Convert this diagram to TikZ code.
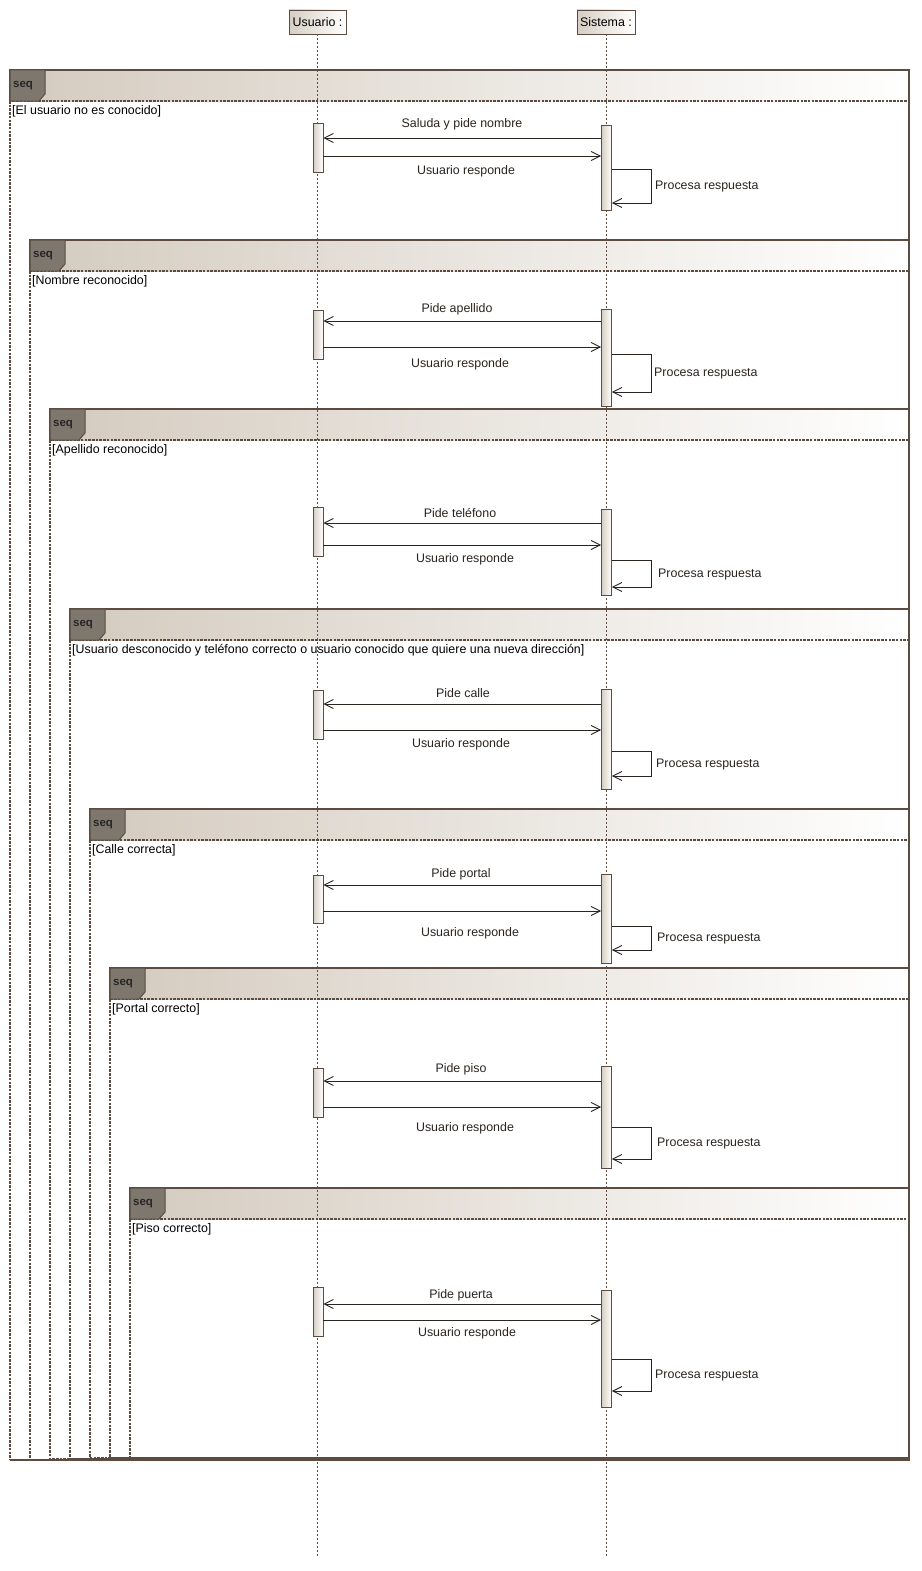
\documentclass[tikz,border=0pt]{standalone}
\usepackage{fontspec}
\setmainfont{Liberation Sans}
\usetikzlibrary{arrows.meta,calc}
\definecolor{lc}{HTML}{5B4B40}
\definecolor{hdr}{HTML}{D4CBBF}
\definecolor{tabc}{HTML}{7E776D}
\definecolor{actc}{HTML}{D6CEC3}
\definecolor{txt}{HTML}{2A2420}
\begin{document}
\begin{tikzpicture}[x=1pt,y=-1pt,
  font=\fontsize{12.4}{14.5}\selectfont,
  every node/.style={text=txt},
  head/.style={draw=lc,line width=0.9pt,left color=actc,right color=white,minimum height=24pt,inner sep=2pt,text=black},
  act/.style={draw=lc,line width=0.9pt,left color=actc,right color=white,minimum width=10pt,inner sep=0pt},
  lifeline/.style={draw=lc,line width=0.8pt,dash pattern=on 2pt off 2pt},
  frameline/.style={draw=lc,line width=1.2pt},
  operand/.style={draw=lc,line width=1.1pt,dash pattern=on 2.5pt off 1.2pt},
  msg/.style={draw=txt,line width=0.9pt,-{Straight Barb[length=9pt,width=9pt,line width=0.9pt]}},
  lbl/.style={inner sep=0pt},
  seqtxt/.style={inner sep=0pt,anchor=west,font=\fontsize{11.5}{13}\selectfont\bfseries,text=black!85},
  guard/.style={inner sep=0pt,anchor=west,text=black}
]
\useasboundingbox[fill=white] (0,0) rectangle (921,1571);

% combined fragments
\foreach \fx/\fy/\fg [count=\i] in {
  10/70/{[El usuario no es conocido]},
  30/240/{[Nombre reconocido]},
  50/409/{[Apellido reconocido]},
  70/609/{[Usuario desconocido y teléfono correcto o usuario conocido que quiere una nueva dirección]},
  90/809/{[Calle correcta]},
  110/968/{[Portal correcto]},
  130/1188/{[Piso correcto]}}{
  \path[left color=hdr,right color=white] (\fx,\fy) rectangle (909,\fy+31);
  \draw[operand] (\fx,\fy+31) rectangle (909,1460-\i*0.4);
  \draw[frameline] (\fx,\fy+31) -- (\fx,\fy) -- (909,\fy) -- (909,1460) -- (\fx,1460);
  \filldraw[fill=tabc,draw=lc,line width=1pt] (\fx,\fy) -- (\fx+35,\fy) -- (\fx+35,\fy+24) -- (\fx+29,\fy+31) -- (\fx,\fy+31) -- cycle;
  \node[seqtxt] (seq\i) at (\fx+3,\fy+16) {seq};
  \node[guard] (g\i) at (\fx+2,\fy+41.5) {\fg};
}

% lifelines
\node[head,minimum width=57pt] (U) at (317.5,22) {Usuario :};
\node[head,minimum width=58pt] (S) at (606,22) {Sistema :};
\coordinate (Uend) at (318,1558);
\coordinate (Send) at (606.5,1558);
\draw[lifeline] (U.south) -- (U.south |- Uend);
\draw[lifeline] (S.south) -- (S.south |- Send);

% interactions
\foreach \uA/\uB/\sA/\sB/\mA/\mAy/\mAx/\mAt/\mB/\mBy/\mBx/\lA/\lB/\lx [count=\i] in {
  123/172/125/210/138/124.5/462/{Saluda y pide nombre}/156/171.5/466/169/203/655,
  310/359/309/406/321/309.5/457/{Pide apellido}/347/364.5/460/354/392/654,
  507/556/509/595/523/512.5/460/{Pide teléfono}/545/559.5/465/560/587/658,
  690/739/689/789/704/693.5/463/{Pide calle}/730/744.5/461/751/776/656,
  875/923/874/963/885/874.5/461/{Pide portal}/911/933.5/470/926/950/657,
  1068/1117/1066/1168/1081/1069.5/461/{Pide piso}/1107/1128.5/465/1127/1159/657,
  1287/1336/1290/1407/1304/1295.5/461/{Pide puerta}/1320/1333.5/467/1359/1391/655}{
  \node[act,minimum height=\uB-\uA] (ua\i) at (318,{(\uA+\uB)/2}) {};
  \node[act,minimum height=\sB-\sA] (sa\i) at (606.5,{(\sA+\sB)/2}) {};
  \coordinate (ma\i) at (0,\mA);
  \coordinate (mb\i) at (0,\mB);
  \coordinate (la\i) at (0,\lA);
  \coordinate (lb\i) at (0,\lB);
  \draw[msg] (sa\i.west |- ma\i) -- (ua\i.east |- ma\i);
  \node[lbl] (t1\i) at (\mAx,\mAy) {\mAt};
  \draw[msg] (ua\i.east |- mb\i) -- (sa\i.west |- mb\i);
  \node[lbl] (t2\i) at (\mBx,\mBy) {Usuario responde};
  \draw[msg] (sa\i.east |- la\i) -- ++(39,0) |- (sa\i.east |- lb\i);
  \node[lbl,anchor=west] (p\i) at (\lx,{(\lA+\lB)/2+1}) {Procesa respuesta};
}
\end{tikzpicture}
\end{document}
